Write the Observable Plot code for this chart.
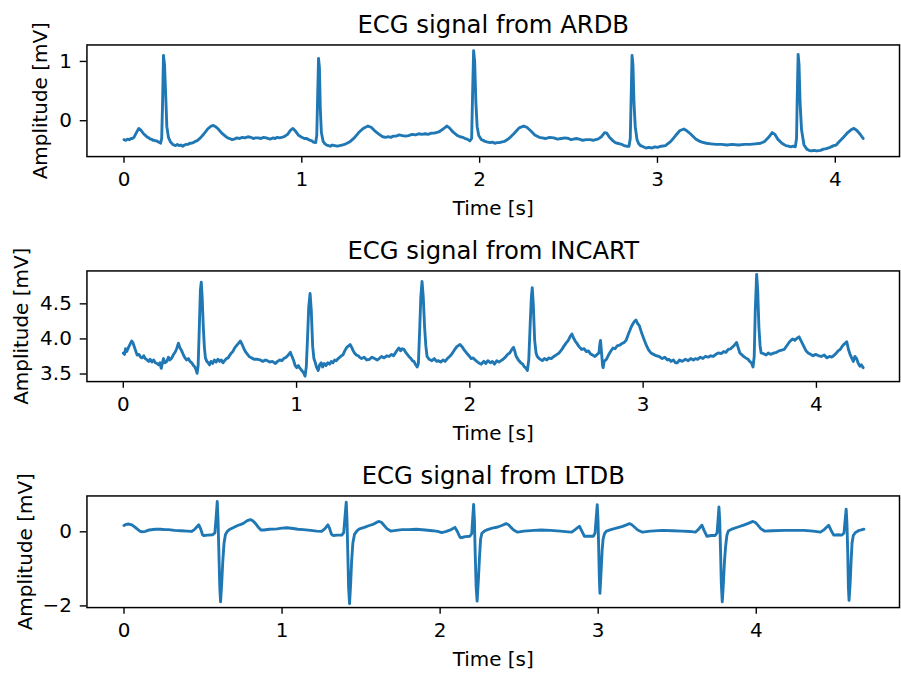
<!DOCTYPE html>
<html>
<head>
<meta charset="utf-8">
<script src="https://cdn.jsdelivr.net/npm/d3@7"></script>
<script src="https://cdn.jsdelivr.net/npm/@observablehq/plot@0.6"></script>
<style>
  html, body { margin: 0; padding: 0; background: #fff; overflow: hidden; width: 901px; height: 677px; }
  #chart svg { display: block; }
</style>
</head>
<body>
<div id="chart"></div>
<script>
// ---------- DATA (time [s], amplitude [mV]) ----------
const ardbSignal = [
[0.000,-0.32],[0.010,-0.33],[0.020,-0.31],[0.030,-0.32],[0.040,-0.30],[0.048,-0.30],[0.056,-0.28],[0.070,-0.20],[0.083,-0.13],[0.095,-0.16],[0.110,-0.22],
[0.125,-0.26],[0.133,-0.28],[0.140,-0.29],[0.148,-0.31],[0.155,-0.31],[0.163,-0.33],[0.170,-0.33],[0.178,-0.34],[0.185,-0.34],[0.192,-0.36],[0.198,-0.36],[0.206,-0.38],[0.212,-0.30],
[0.217,0.30],[0.222,1.10],[0.228,0.95],[0.235,0.40],[0.241,-0.10],[0.250,-0.28],[0.262,-0.36],[0.275,-0.40],
[0.290,-0.42],[0.300,-0.40],[0.310,-0.42],[0.320,-0.41],[0.330,-0.43],[0.340,-0.41],[0.350,-0.40],[0.360,-0.40],[0.370,-0.38],[0.380,-0.38],[0.390,-0.37],[0.400,-0.35],[0.410,-0.34],[0.430,-0.29],
[0.450,-0.22],[0.470,-0.14],[0.490,-0.09],[0.503,-0.08],[0.515,-0.10],[0.530,-0.14],[0.550,-0.21],[0.570,-0.26],
[0.583,-0.29],[0.595,-0.30],[0.608,-0.32],[0.620,-0.31],[0.635,-0.29],[0.650,-0.30],[0.665,-0.28],[0.680,-0.29],[0.697,-0.27],[0.713,-0.28],[0.727,-0.30],[0.740,-0.29],[0.755,-0.29],[0.770,-0.30],[0.785,-0.28],[0.800,-0.29],
[0.812,-0.30],[0.824,-0.31],[0.837,-0.29],[0.850,-0.30],[0.862,-0.28],[0.875,-0.29],[0.888,-0.28],[0.900,-0.27],[0.920,-0.23],[0.937,-0.16],[0.950,-0.13],[0.963,-0.17],
[0.980,-0.24],[1.000,-0.28],[1.014,-0.30],[1.028,-0.30],[1.038,-0.32],[1.048,-0.33],[1.057,-0.34],[1.065,-0.36],[1.078,-0.37],[1.084,-0.25],[1.089,0.40],
[1.094,1.05],[1.099,0.90],[1.104,0.20],[1.110,-0.20],[1.120,-0.35],[1.130,-0.39],[1.140,-0.41],[1.150,-0.42],[1.160,-0.43],[1.172,-0.41],[1.185,-0.42],[1.199,-0.43],
[1.213,-0.42],[1.226,-0.41],[1.240,-0.40],[1.254,-0.38],[1.268,-0.36],[1.295,-0.29],[1.320,-0.20],[1.345,-0.13],[1.372,-0.09],[1.390,-0.11],
[1.410,-0.17],[1.435,-0.23],[1.455,-0.27],[1.472,-0.28],[1.486,-0.27],[1.500,-0.28],[1.515,-0.26],[1.530,-0.26],[1.548,-0.24],[1.565,-0.25],[1.582,-0.26],[1.600,-0.25],[1.620,-0.23],[1.640,-0.24],
[1.658,-0.22],[1.676,-0.23],[1.693,-0.22],[1.710,-0.23],[1.728,-0.21],[1.745,-0.21],[1.770,-0.19],[1.795,-0.14],[1.815,-0.09],[1.830,-0.12],[1.850,-0.19],
[1.875,-0.25],[1.890,-0.27],[1.905,-0.28],[1.918,-0.30],[1.930,-0.31],[1.945,-0.34],[1.955,-0.30],[1.960,0.40],[1.966,1.18],[1.972,1.00],
[1.979,0.30],[1.986,-0.10],[1.995,-0.25],[2.010,-0.32],[2.020,-0.33],[2.030,-0.35],[2.045,-0.36],[2.060,-0.37],[2.072,-0.36],[2.085,-0.38],[2.097,-0.37],[2.110,-0.37],
[2.139,-0.35],[2.165,-0.30],[2.195,-0.21],[2.222,-0.12],[2.248,-0.09],[2.265,-0.11],[2.287,-0.17],[2.310,-0.24],
[2.335,-0.28],[2.352,-0.29],[2.370,-0.30],[2.393,-0.28],[2.417,-0.29],[2.438,-0.31],[2.460,-0.30],[2.480,-0.29],[2.500,-0.30],[2.514,-0.32],[2.528,-0.31],[2.544,-0.30],[2.560,-0.31],[2.580,-0.33],[2.600,-0.32],
[2.620,-0.32],[2.639,-0.33],[2.652,-0.32],[2.665,-0.31],[2.685,-0.27],[2.703,-0.20],[2.715,-0.21],[2.730,-0.28],[2.750,-0.34],[2.763,-0.37],[2.775,-0.38],
[2.788,-0.39],[2.800,-0.40],[2.812,-0.42],[2.825,-0.43],[2.840,-0.43],[2.847,-0.30],[2.852,0.40],[2.857,1.10],[2.862,0.95],[2.868,0.30],
[2.875,-0.10],[2.885,-0.32],[2.895,-0.39],[2.905,-0.42],[2.920,-0.44],[2.935,-0.46],[2.952,-0.45],[2.970,-0.46],[2.985,-0.44],[3.000,-0.45],[3.022,-0.43],[3.045,-0.42],[3.075,-0.35],
[3.102,-0.25],[3.125,-0.17],[3.148,-0.14],[3.165,-0.17],[3.185,-0.22],[3.215,-0.31],[3.233,-0.34],[3.250,-0.36],[3.275,-0.38],[3.300,-0.39],
[3.330,-0.40],[3.361,-0.40],[3.390,-0.41],[3.420,-0.40],[3.455,-0.41],[3.491,-0.40],[3.520,-0.40],[3.550,-0.39],[3.580,-0.38],[3.602,-0.35],[3.625,-0.28],[3.645,-0.20],
[3.660,-0.23],[3.676,-0.31],[3.700,-0.38],[3.711,-0.40],[3.722,-0.42],[3.736,-0.43],[3.750,-0.44],[3.763,-0.43],[3.775,-0.44],[3.782,-0.30],[3.786,0.40],
[3.791,1.12],[3.796,0.95],[3.802,0.30],[3.810,-0.15],[3.824,-0.41],[3.840,-0.48],[3.852,-0.50],[3.865,-0.51],[3.880,-0.50],[3.895,-0.51],
[3.917,-0.50],[3.933,-0.48],[3.950,-0.47],[3.970,-0.45],[3.991,-0.42],[4.005,-0.41],[4.020,-0.36],[4.046,-0.28],[4.070,-0.20],[4.090,-0.15],[4.105,-0.13],
[4.120,-0.16],[4.135,-0.21],[4.157,-0.30]
];

const incartSignal = [
[0.000,3.80],[0.007,3.78],[0.013,3.86],[0.020,3.82],[0.030,3.88],[0.040,3.93],[0.048,3.97],[0.055,3.95],
[0.062,3.90],[0.070,3.84],[0.080,3.77],[0.090,3.78],[0.100,3.74],[0.109,3.73],[0.118,3.76],[0.127,3.72],
[0.137,3.70],[0.147,3.68],[0.155,3.71],[0.165,3.67],[0.175,3.70],[0.185,3.66],[0.195,3.65],[0.204,3.63],
[0.212,3.66],[0.219,3.58],[0.226,3.66],[0.232,3.72],[0.240,3.66],[0.251,3.68],[0.260,3.74],[0.268,3.70],
[0.280,3.73],[0.290,3.78],[0.299,3.81],[0.308,3.86],[0.318,3.94],[0.326,3.88],[0.337,3.83],[0.347,3.77],
[0.356,3.73],[0.366,3.70],[0.376,3.72],[0.385,3.68],[0.395,3.66],[0.405,3.62],[0.413,3.60],[0.420,3.56],
[0.426,3.51],[0.432,3.62],[0.438,4.10],[0.445,4.70],[0.450,4.81],[0.455,4.60],[0.462,4.16],[0.468,3.88],
[0.474,3.73],[0.482,3.68],[0.490,3.66],[0.497,3.63],[0.506,3.68],[0.516,3.65],[0.526,3.70],[0.536,3.67],
[0.546,3.71],[0.556,3.68],[0.566,3.70],[0.575,3.66],[0.585,3.69],[0.595,3.72],[0.605,3.73],[0.615,3.77],
[0.624,3.80],[0.632,3.82],[0.642,3.87],[0.652,3.90],[0.662,3.93],[0.675,3.97],[0.686,3.92],[0.698,3.85],
[0.710,3.80],[0.726,3.75],[0.740,3.73],[0.755,3.71],[0.774,3.71],[0.790,3.70],[0.805,3.68],[0.820,3.70],
[0.831,3.69],[0.845,3.67],[0.860,3.68],[0.878,3.65],[0.890,3.68],[0.903,3.70],[0.915,3.69],[0.926,3.72],
[0.940,3.74],[0.952,3.77],[0.964,3.81],[0.972,3.76],[0.982,3.70],[0.992,3.62],[1.001,3.59],[1.010,3.62],
[1.020,3.58],[1.030,3.55],[1.040,3.52],[1.049,3.47],[1.056,3.60],[1.063,4.00],[1.070,4.45],[1.078,4.65],
[1.085,4.40],[1.093,3.89],[1.100,3.72],[1.106,3.68],[1.115,3.60],[1.125,3.55],[1.133,3.63],[1.142,3.66],
[1.150,3.60],[1.160,3.65],[1.170,3.62],[1.180,3.66],[1.191,3.64],[1.200,3.68],[1.210,3.66],[1.220,3.70],
[1.229,3.69],[1.240,3.72],[1.250,3.74],[1.258,3.76],[1.267,3.77],[1.278,3.83],[1.290,3.88],[1.300,3.90],
[1.309,3.92],[1.318,3.88],[1.325,3.84],[1.334,3.80],[1.345,3.77],[1.356,3.76],[1.363,3.74],[1.375,3.72],
[1.390,3.74],[1.405,3.70],[1.420,3.71],[1.435,3.74],[1.450,3.72],[1.465,3.70],[1.477,3.72],[1.490,3.75],
[1.505,3.73],[1.520,3.76],[1.534,3.75],[1.548,3.78],[1.560,3.76],[1.570,3.80],[1.580,3.84],[1.591,3.87],
[1.600,3.83],[1.610,3.86],[1.620,3.85],[1.632,3.80],[1.648,3.75],[1.660,3.72],[1.668,3.69],[1.677,3.68],
[1.686,3.64],[1.696,3.60],[1.703,3.65],[1.710,4.10],[1.717,4.60],[1.724,4.82],[1.731,4.60],[1.739,4.16],
[1.746,3.90],[1.753,3.75],[1.765,3.71],[1.781,3.69],[1.795,3.72],[1.808,3.68],[1.819,3.69],[1.832,3.67],
[1.845,3.70],[1.857,3.68],[1.870,3.72],[1.883,3.75],[1.895,3.78],[1.910,3.84],[1.925,3.89],[1.943,3.92],
[1.955,3.89],[1.968,3.84],[1.981,3.80],[1.995,3.76],[2.008,3.72],[2.019,3.73],[2.030,3.70],[2.045,3.67],
[2.057,3.65],[2.066,3.64],[2.080,3.68],[2.092,3.65],[2.104,3.69],[2.118,3.66],[2.130,3.68],[2.142,3.64],
[2.155,3.69],[2.168,3.67],[2.180,3.69],[2.192,3.71],[2.205,3.74],[2.218,3.78],[2.230,3.80],[2.245,3.86],
[2.252,3.88],[2.260,3.82],[2.266,3.76],[2.280,3.70],[2.294,3.66],[2.305,3.64],[2.315,3.60],[2.322,3.59],
[2.332,3.55],[2.340,3.70],[2.348,4.20],[2.355,4.60],[2.360,4.73],[2.366,4.50],[2.374,3.98],[2.382,3.80],
[2.389,3.75],[2.400,3.72],[2.418,3.69],[2.430,3.72],[2.444,3.70],[2.456,3.73],[2.470,3.72],[2.485,3.75],
[2.503,3.78],[2.515,3.80],[2.528,3.84],[2.541,3.89],[2.555,3.94],[2.568,3.98],[2.580,4.04],[2.589,4.07],
[2.597,4.02],[2.608,3.97],[2.617,3.94],[2.630,3.89],[2.645,3.85],[2.660,3.86],[2.672,3.82],[2.684,3.83],
[2.695,3.79],[2.708,3.77],[2.722,3.75],[2.735,3.78],[2.745,3.80],[2.750,3.92],[2.754,3.98],[2.760,3.80],
[2.766,3.62],[2.769,3.59],[2.775,3.68],[2.788,3.71],[2.800,3.77],[2.812,3.82],[2.826,3.87],[2.838,3.86],
[2.850,3.90],[2.864,3.91],[2.875,3.93],[2.890,3.95],[2.902,3.98],[2.915,4.07],[2.925,4.13],[2.931,4.17],
[2.942,4.22],[2.950,4.25],[2.959,4.27],[2.968,4.22],[2.978,4.19],[2.992,4.08],[3.007,3.98],[3.020,3.90],
[3.032,3.84],[3.045,3.80],[3.060,3.78],[3.075,3.76],[3.092,3.75],[3.110,3.72],[3.125,3.74],[3.140,3.70],
[3.149,3.71],[3.160,3.68],[3.175,3.70],[3.187,3.66],[3.197,3.66],[3.210,3.70],[3.225,3.68],[3.244,3.71],
[3.260,3.69],[3.275,3.72],[3.290,3.70],[3.301,3.72],[3.315,3.71],[3.330,3.74],[3.345,3.72],[3.358,3.75],
[3.375,3.74],[3.390,3.76],[3.405,3.75],[3.420,3.78],[3.434,3.80],[3.450,3.79],[3.465,3.82],[3.478,3.81],
[3.491,3.85],[3.505,3.86],[3.518,3.89],[3.530,3.92],[3.539,3.95],[3.548,3.88],[3.558,3.80],[3.567,3.78],
[3.580,3.75],[3.592,3.73],[3.605,3.71],[3.615,3.68],[3.625,3.66],[3.634,3.60],[3.641,3.75],[3.647,4.40],
[3.655,4.92],[3.661,4.70],[3.668,4.17],[3.675,3.90],[3.681,3.80],[3.695,3.79],[3.710,3.77],[3.722,3.80],
[3.735,3.78],[3.757,3.80],[3.770,3.81],[3.785,3.83],[3.800,3.84],[3.814,3.85],[3.828,3.90],[3.845,3.96],
[3.862,4.00],[3.875,3.98],[3.888,4.01],[3.900,4.03],[3.912,3.97],[3.928,3.89],[3.940,3.83],[3.952,3.80],
[3.966,3.78],[3.980,3.76],[3.995,3.78],[4.014,3.76],[4.028,3.75],[4.045,3.77],[4.061,3.73],[4.075,3.75],
[4.088,3.74],[4.099,3.76],[4.112,3.79],[4.125,3.83],[4.137,3.85],[4.150,3.90],[4.162,3.93],[4.175,3.96],
[4.185,3.85],[4.194,3.78],[4.205,3.72],[4.213,3.68],[4.222,3.75],[4.232,3.72],[4.240,3.66],[4.251,3.61],
[4.260,3.63],[4.270,3.59]
];

const ltdbSignal = [
[0.000,0.17],[0.012,0.20],[0.030,0.21],[0.050,0.19],[0.065,0.14],[0.085,0.07],[0.100,0.02],[0.115,0.00],
[0.135,0.01],[0.160,0.05],[0.198,0.07],[0.230,0.07],[0.260,0.06],[0.281,0.06],[0.320,0.04],[0.360,0.03],
[0.400,0.02],[0.427,0.01],[0.445,0.06],[0.460,0.13],[0.473,0.19],[0.485,0.08],[0.497,-0.08],[0.504,-0.10],
[0.530,-0.09],[0.560,-0.08],[0.575,-0.03],[0.583,0.40],[0.590,0.82],[0.595,0.30],[0.600,-0.50],[0.606,-1.50],
[0.611,-1.89],[0.618,-1.40],[0.625,-0.80],[0.633,-0.30],[0.642,-0.07],[0.655,0.02],[0.667,0.06],[0.690,0.11],
[0.719,0.17],[0.740,0.20],[0.760,0.24],[0.780,0.30],[0.800,0.33],[0.815,0.30],[0.833,0.22],[0.850,0.12],
[0.866,0.05],[0.885,0.05],[0.920,0.07],[0.969,0.08],[1.000,0.10],[1.031,0.11],[1.070,0.09],[1.100,0.07],
[1.135,0.06],[1.180,0.04],[1.220,0.02],[1.250,0.01],[1.270,0.08],[1.290,0.19],[1.300,0.10],[1.312,-0.06],
[1.323,-0.10],[1.350,-0.09],[1.378,-0.09],[1.390,-0.02],[1.398,0.40],[1.406,0.80],[1.411,0.30],[1.416,-0.60],
[1.421,-1.50],[1.427,-1.94],[1.434,-1.40],[1.440,-0.80],[1.448,-0.30],[1.458,-0.07],[1.475,0.03],[1.490,0.08],
[1.520,0.12],[1.552,0.17],[1.580,0.21],[1.600,0.26],[1.615,0.28],[1.630,0.25],[1.646,0.17],[1.665,0.08],
[1.688,0.02],[1.720,0.04],[1.760,0.06],[1.802,0.06],[1.850,0.07],[1.906,0.05],[1.950,0.03],[1.985,0.01],
[2.010,-0.02],[2.040,0.01],[2.070,0.06],[2.094,0.12],[2.110,0.00],[2.125,-0.14],[2.131,-0.16],[2.160,-0.13],
[2.188,-0.12],[2.200,-0.05],[2.206,0.35],[2.212,0.74],[2.217,0.30],[2.222,-0.60],[2.228,-1.50],[2.234,-1.87],
[2.242,-1.30],[2.249,-0.70],[2.256,-0.20],[2.264,-0.04],[2.280,0.02],[2.300,0.06],[2.330,0.10],[2.365,0.13],
[2.390,0.17],[2.417,0.22],[2.433,0.19],[2.448,0.12],[2.465,0.05],[2.490,-0.01],[2.530,0.02],[2.594,0.04],
[2.640,0.05],[2.698,0.04],[2.760,0.02],[2.810,0.00],[2.833,-0.01],[2.858,0.07],[2.881,0.15],[2.895,0.03],
[2.913,-0.12],[2.940,-0.12],[2.969,-0.12],[2.980,-0.04],[2.987,0.35],[2.994,0.73],[2.999,0.30],[3.003,-0.40],
[3.007,-1.20],[3.011,-1.66],[3.018,-1.10],[3.025,-0.50],[3.031,-0.20],[3.040,-0.05],[3.052,0.02],[3.080,0.06],
[3.115,0.10],[3.150,0.14],[3.175,0.18],[3.198,0.22],[3.213,0.19],[3.229,0.13],[3.250,0.05],[3.281,-0.01],
[3.330,0.02],[3.406,0.04],[3.470,0.03],[3.531,0.02],[3.580,0.01],[3.615,-0.01],[3.635,0.07],[3.656,0.18],
[3.670,0.04],[3.688,-0.12],[3.715,-0.10],[3.740,-0.10],[3.752,-0.03],[3.758,0.30],[3.764,0.67],[3.769,0.30],
[3.774,-0.50],[3.779,-1.40],[3.785,-1.89],[3.792,-1.40],[3.799,-0.80],[3.806,-0.40],[3.814,-0.10],[3.823,0.02],
[3.850,0.08],[3.885,0.13],[3.920,0.18],[3.950,0.23],[3.979,0.28],[3.995,0.25],[4.010,0.18],[4.030,0.08],
[4.052,0.02],[4.100,0.03],[4.177,0.04],[4.240,0.04],[4.302,0.04],[4.360,0.02],[4.406,-0.01],[4.430,0.06],
[4.458,0.18],[4.472,0.05],[4.490,-0.09],[4.520,-0.08],[4.542,-0.09],[4.555,-0.03],[4.562,0.30],[4.569,0.61],
[4.574,0.20],[4.579,-0.60],[4.583,-1.50],[4.587,-1.85],[4.594,-1.40],[4.600,-0.80],[4.606,-0.30],[4.614,-0.10],
[4.625,-0.03],[4.646,0.03],[4.665,0.05],[4.681,0.07]
];

const panelTitles = ["ECG signal from ARDB", "ECG signal from INCART", "ECG signal from LTDB"];
const xTicks = [0, 1, 2, 3, 4];
const yTicksArdb = [0, 1];
const yTicksIncart = [3.5, 4.0, 4.5];
const yTicksLtdb = [-2, 0];
const xLabel = "Time [s]";
const yLabel = "Amplitude [mV]";

// ---------- RENDER ----------
const FONT = "DejaVu Sans, sans-serif";
const BLUE = "#1f77b4";
const TICK_FS = 20.2;
const TITLE_FS = 24.6;

function panel({signal, title, xDomain, yDomain, yTicks, yFormat, height, mt, mb, ylabelDx}) {
  const data = signal.map(([t, v]) => ({t, v}));
  return Plot.plot({
    width: 912,
    height,
    marginLeft: 87.5,
    marginRight: 2,
    marginTop: mt,
    marginBottom: mb,
    style: {fontFamily: FONT, fontSize: TICK_FS + "px", color: "#000", background: "#fff", overflow: "visible"},
    x: {domain: xDomain},
    y: {domain: yDomain},
    marks: [
      Plot.line(data, {x: "t", y: "v", stroke: BLUE, strokeWidth: 2.9, strokeLinejoin: "round", strokeLinecap: "round"}),
      Plot.frame({stroke: "#000", strokeWidth: 1.5}),
      Plot.axisX({ticks: xTicks, tickSize: 6.8, tickPadding: 8.5, label: null, strokeWidth: 1.4, tickFormat: d3.format("d"), fill: "#000", fontSize: TICK_FS}),
      Plot.axisY({ticks: yTicks, tickSize: 6.8, tickPadding: 8.5, label: null, strokeWidth: 1.4, tickFormat: yFormat, fill: "#000", fontSize: TICK_FS}),
      Plot.text([title], {frameAnchor: "top", dy: -11.7, lineAnchor: "bottom", fontSize: TITLE_FS, fill: "#000"}),
      Plot.text([xLabel], {frameAnchor: "bottom", dy: 59, lineAnchor: "bottom", fontSize: TICK_FS, fill: "#000"}),
      Plot.text([yLabel], {frameAnchor: "left", dx: ylabelDx, rotate: -90, lineAnchor: "bottom", textAnchor: "middle", fontSize: TICK_FS, fill: "#000"})
    ]
  });
}

const chart = document.getElementById("chart");
chart.append(panel({
  signal: ardbSignal, title: panelTitles[0],
  xDomain: [-0.2083, 4.3611], yDomain: [-0.605, 1.278],
  yTicks: yTicksArdb, yFormat: d3.format("d"),
  height: 228, mt: 45, mb: 70, ylabelDx: -40.8
}));
chart.append(panel({
  signal: incartSignal, title: panelTitles[1],
  xDomain: [-0.2098, 4.4795], yDomain: [3.392, 4.969],
  yTicks: yTicksIncart, yFormat: d3.format(".1f"),
  height: 228, mt: 46, mb: 70, ylabelDx: -59.2
}));
chart.append(panel({
  signal: ltdbSignal, title: panelTitles[2],
  xDomain: [-0.2344, 4.9063], yDomain: [-2.045, 0.968],
  yTicks: yTicksLtdb, yFormat: d3.format("d"),
  height: 221, mt: 45, mb: 63, ylabelDx: -55.5
}));
</script>
</body>
</html>
